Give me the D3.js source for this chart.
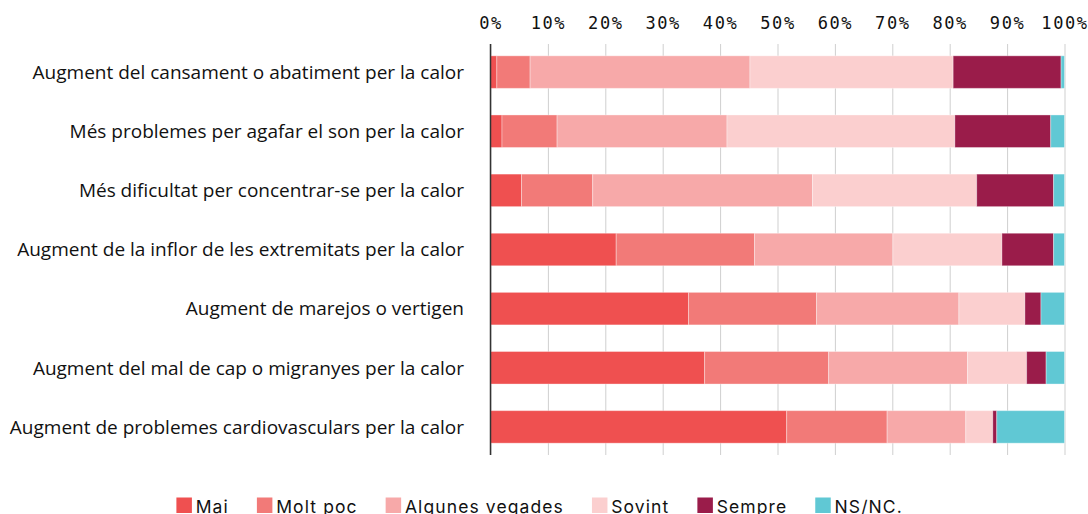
<!DOCTYPE html>
<html>
<head>
<meta charset="utf-8">
<script src="https://cdn.jsdelivr.net/npm/d3@7"></script>
<style>
  body { margin: 0; background: #fff; }
  svg { display: block; }
</style>
</head>
<body>
<div id="chart"></div>
<script>
// Dades
const categories = [
    "Augment del cansament o abatiment per la calor",
    "Més problemes per agafar el son per la calor",
    "Més dificultat per concentrar-se per la calor",
    "Augment de la inflor de les extremitats per la calor",
    "Augment de marejos o vertigen",
    "Augment del mal de cap o migranyes per la calor",
    "Augment de problemes cardiovasculars per la calor"
];
const seriesNames = ["Mai", "Molt poc", "Algunes vegades", "Sovint", "Sempre", "NS/NC."];
const mai       = [1.1, 2.0, 5.4, 21.9, 34.5, 37.3, 51.6];
const moltPoc   = [5.8, 9.6, 12.4, 24.1, 22.3, 21.6, 17.5];
const algunes   = [38.3, 29.6, 38.3, 24.1, 24.8, 24.2, 13.7];
const sovint    = [35.4, 39.7, 28.6, 19.0, 11.5, 10.3, 4.7];
const sempre    = [18.8, 16.7, 13.4, 9.0, 2.8, 3.4, 0.7];
const nsnc      = [0.6, 2.4, 1.9, 1.9, 4.1, 3.2, 11.8];
const tickValues = [0, 10, 20, 30, 40, 50, 60, 70, 80, 90, 100];
const colors = ["#ef5050", "#f27a78", "#f7a9a9", "#fbcfcf", "#9a1c4a", "#60c8d4"];

const width = 1088;
const height = 514;
const margin = { left: 490.5, right: 1064.5, top: 44, bottom: 455 };

const rows = categories.map((c, i) => ({
    cat: c,
    "Mai": mai[i],
    "Molt poc": moltPoc[i],
    "Algunes vegades": algunes[i],
    "Sovint": sovint[i],
    "Sempre": sempre[i],
    "NS/NC.": nsnc[i]
}));

const stacked = d3.stack().keys(seriesNames)(rows);

const svg = d3.select("#chart")
    .append("svg")
    .attr("width", width)
    .attr("height", height);

const x = d3.scaleLinear().domain([0, 100]).range([margin.left, margin.right]);
const y = d3.scaleBand()
    .domain(categories)
    .range([margin.top, margin.bottom])
    .paddingInner(0.45)
    .paddingOuter(0.2);
const color = d3.scaleOrdinal().domain(seriesNames).range(colors);

// Os superior amb línies de graella
const xAxis = svg.append("g")
    .attr("transform", `translate(0,${margin.top})`)
    .call(d3.axisTop(x)
        .tickValues(tickValues)
        .tickFormat(d => d + "%")
        .tickSize(-(margin.bottom - margin.top))
        .tickPadding(15));
xAxis.select(".domain").remove();
xAxis.selectAll(".tick line")
    .attr("stroke", "#cfcfcf")
    .attr("stroke-width", 1);
xAxis.selectAll(".tick text")
    .attr("fill", "#111")
    .style("font-family", "'DejaVu Sans Mono', monospace")
    .style("font-size", "17px")
    .style("letter-spacing", "1.6px");

// Barres apilades
svg.append("g")
    .selectAll("g")
    .data(stacked)
    .enter()
    .append("g")
    .attr("fill", d => color(d.key))
    .selectAll("rect")
    .data(d => d)
    .enter()
    .append("rect")
    .attr("x", d => x(d[0]))
    .attr("y", d => y(d.data.cat))
    .attr("width", d => x(d[1]) - x(d[0]))
    .attr("height", y.bandwidth())
    .attr("stroke", "#fff")
    .attr("stroke-opacity", 0.35)
    .attr("stroke-width", 1);

// Línia del zero
svg.append("line")
    .attr("x1", x(0)).attr("x2", x(0))
    .attr("y1", margin.top).attr("y2", margin.bottom)
    .attr("stroke", "#333")
    .attr("stroke-width", 1.5);

// Etiquetes de categoria
svg.append("g")
    .selectAll("text")
    .data(categories)
    .enter()
    .append("text")
    .attr("x", 464)
    .attr("y", d => y(d) + y.bandwidth() / 2)
    .attr("dy", "0.36em")
    .attr("text-anchor", "end")
    .attr("fill", "#111")
    .style("font-family", "'Open Sans', sans-serif")
    .style("font-size", "19px")
    .text(d => d);

// Llegenda
const legend = svg.append("g").attr("transform", "translate(176.4,0)");
let lx = 0;
seriesNames.forEach((name, i) => {
    const item = legend.append("g").attr("transform", `translate(${lx},0)`);
    item.append("rect")
        .attr("x", 0).attr("y", 497.5)
        .attr("width", 15.5).attr("height", 15.5)
        .attr("fill", colors[i]);
    const t = item.append("text")
        .attr("x", 19.3).attr("y", 512.7)
        .attr("fill", "#111")
        .style("font-family", "Inter, sans-serif")
        .style("font-size", "17.5px")
        .style("letter-spacing", "1.1px")
        .text(name);
    lx += 19.3 + t.node().getComputedTextLength() + 28;
});
</script>
</body>
</html>
